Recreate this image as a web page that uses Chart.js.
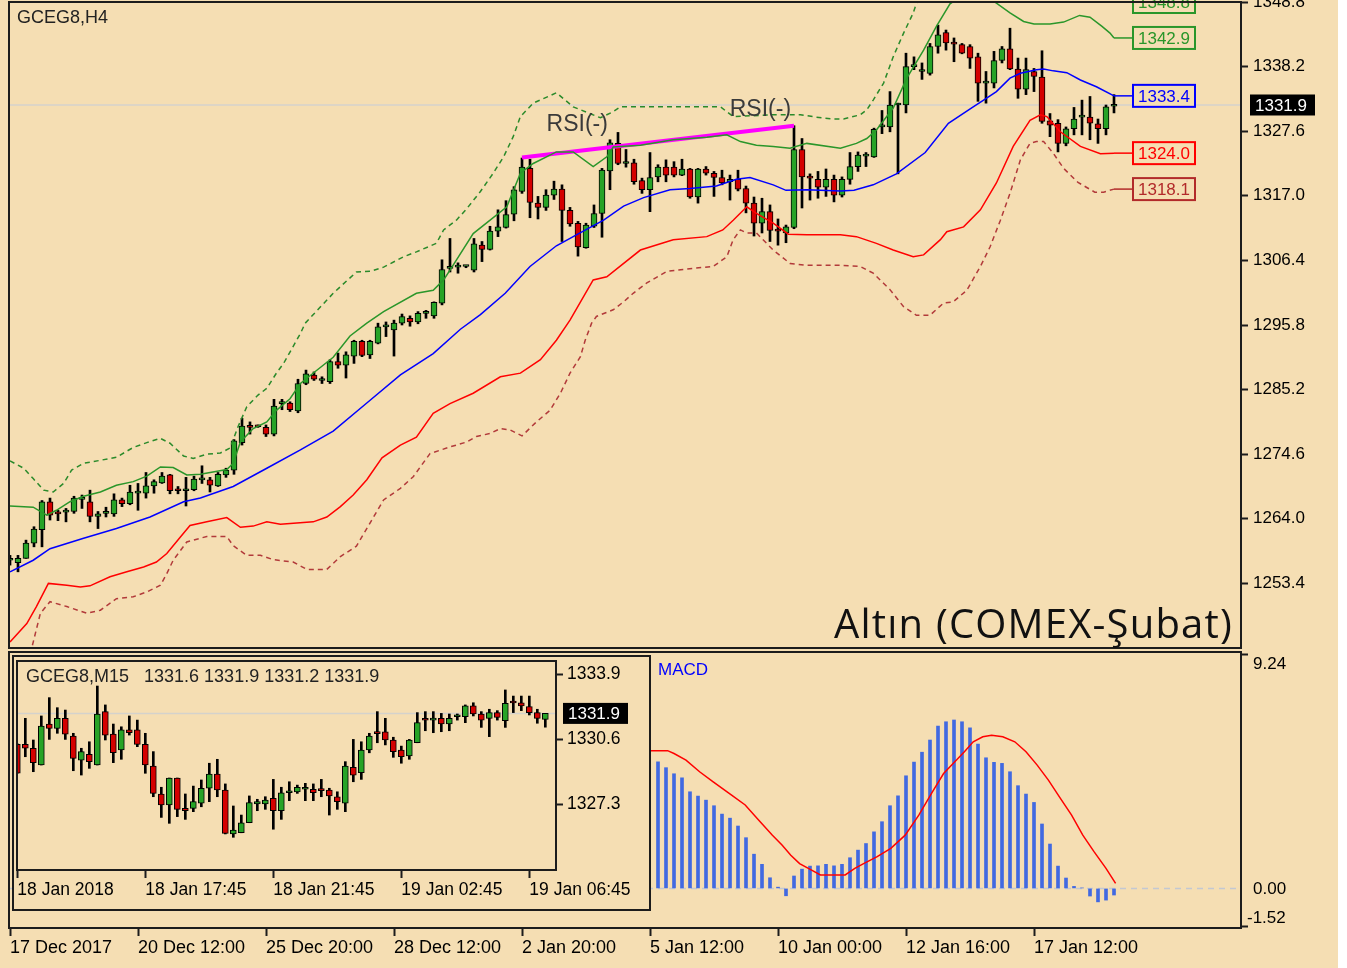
<!DOCTYPE html>
<html>
<head>
<meta charset="utf-8">
<title>GCEG8,H4</title>
<script src="https://cdn.jsdelivr.net/npm/chart.js@4.4.1/dist/chart.umd.min.js"></script>
<style>
  body { margin: 0; background: #ffffff; }
  #page { position: relative; width: 1338px; height: 968px; background: #f5deb3; overflow: hidden; }
  #page canvas { position: absolute; }
  .label { position: absolute; white-space: pre; line-height: 1; }
</style>
</head>
<body>
<div id="page">
  <canvas id="priceChart" width="1347" height="650" style="left:0;top:0"></canvas>
  <canvas id="macdChart" width="1347" height="318" style="left:0;top:650px"></canvas>
  <canvas id="m15Chart" width="639" height="256" style="left:12px;top:655px;background:#f5deb3"></canvas>
  <div class="label" style="left:17px;top:7px;font:18px 'Liberation Sans';color:#222">GCEG8,H4</div>
  <div class="label" style="right:105px;top:595px;font:40px 'Open Sans';letter-spacing:1.2px;color:#111">Altın (COMEX-Şubat)</div>
  <div class="label" style="left:658px;top:660px;font:17px 'Liberation Sans';color:#0000ff">MACD</div>
  <div class="label" id="m15Header" style="left:26px;top:666px;font:18px 'Liberation Sans';color:#222"></div>
</div>
<script>
// H4 candles, one entry per bar (bar 0 = 17 Dec 2017)
const h4Open = [
  1257.2, 1256.8, 1257.5, 1260.0, 1262.2, 1266.8, 1264.9, 1265.1, 1265.2, 1267.2,
  1266.8, 1264.4, 1264.9, 1264.8, 1267.1, 1266.5, 1268.2, 1268.2, 1269.4, 1269.9,
  1271.2, 1268.7, 1268.6, 1268.8, 1270.4, 1270.4, 1269.4, 1271.2, 1272.0, 1276.5,
  1279.1, 1279.2, 1279.0, 1277.9, 1282.9, 1283.0, 1281.7, 1286.2, 1287.6, 1286.7,
  1286.5, 1289.8, 1289.2, 1290.7, 1293.1, 1290.9, 1292.8, 1295.5, 1295.0, 1296.1,
  1296.9, 1296.3, 1297.7, 1297.3, 1299.4, 1305.1, 1305.3, 1305.4, 1304.8, 1308.9,
  1308.2, 1311.2, 1311.8, 1314.0, 1317.7, 1321.5, 1315.8, 1315.1, 1317.1, 1318.1,
  1314.6, 1312.5, 1308.5, 1312.0, 1314.1, 1321.1, 1325.6, 1322.3, 1322.4, 1319.5,
  1318.0, 1320.1, 1321.7, 1321.7, 1320.4, 1321.4, 1316.8, 1321.4, 1320.7, 1320.0,
  1319.3, 1319.7, 1318.2, 1315.8, 1312.5, 1314.4, 1311.3, 1310.9, 1311.8, 1324.6,
  1320.0, 1319.7, 1318.4, 1319.7, 1317.1, 1319.7, 1321.8, 1323.5, 1323.4, 1328.3,
  1328.3, 1331.9, 1331.9, 1338.2, 1337.4, 1337.1, 1341.5, 1343.8, 1342.0, 1341.8,
  1341.5, 1339.8, 1335.5, 1335.5, 1339.2, 1341.1, 1337.8, 1334.5, 1337.4, 1336.5,
  1329.3, 1328.9, 1325.6, 1328.0, 1329.9, 1329.9, 1328.8, 1328.0, 1331.7
];
const h4High = [
  1258.0, 1258.0, 1260.5, 1262.7, 1267.0, 1267.4, 1265.4, 1265.7, 1267.7, 1267.9,
  1268.7, 1265.2, 1265.9, 1268.1, 1267.4, 1269.5, 1269.8, 1271.6, 1270.4, 1271.6,
  1271.3, 1269.3, 1270.8, 1271.0, 1272.7, 1270.8, 1271.6, 1272.3, 1277.0, 1280.5,
  1279.9, 1279.4, 1279.4, 1283.6, 1283.6, 1283.2, 1286.9, 1288.4, 1288.1, 1287.3,
  1290.1, 1291.2, 1291.4, 1293.3, 1293.3, 1293.3, 1296.1, 1296.3, 1296.6, 1297.6,
  1297.3, 1298.0, 1298.2, 1299.6, 1306.5, 1310.0, 1306.0, 1305.5, 1310.0, 1309.5,
  1312.0, 1314.7, 1316.2, 1318.5, 1323.2, 1323.0, 1316.9, 1318.0, 1319.4, 1318.8,
  1315.1, 1312.8, 1312.5, 1315.5, 1321.5, 1326.2, 1327.4, 1324.6, 1323.0, 1319.9,
  1324.1, 1322.1, 1322.9, 1322.6, 1323.0, 1321.5, 1321.5, 1321.8, 1321.0, 1321.2,
  1320.4, 1321.2, 1318.6, 1316.8, 1316.6, 1315.5, 1313.2, 1312.2, 1328.5, 1326.4,
  1320.6, 1321.0, 1321.4, 1320.4, 1320.1, 1324.1, 1324.2, 1324.1, 1328.1, 1331.0,
  1334.1, 1332.2, 1340.4, 1339.8, 1338.8, 1342.0, 1345.0, 1344.2, 1342.9, 1342.0,
  1341.8, 1340.4, 1337.4, 1340.7, 1341.5, 1344.5, 1339.6, 1339.6, 1337.9, 1340.8,
  1330.5, 1329.5, 1328.3, 1331.5, 1332.7, 1333.3, 1329.6, 1331.9, 1333.6
];
const h4Low = [
  1256.4, 1255.3, 1257.5, 1259.4, 1259.4, 1263.8, 1263.7, 1263.5, 1264.9, 1265.7,
  1263.5, 1262.4, 1264.3, 1264.4, 1266.0, 1266.3, 1265.4, 1267.4, 1268.2, 1269.8,
  1268.1, 1268.1, 1266.1, 1268.6, 1269.8, 1268.4, 1269.3, 1270.8, 1271.3, 1276.1,
  1277.9, 1279.0, 1277.5, 1277.6, 1281.9, 1281.6, 1281.4, 1286.0, 1286.7, 1286.2,
  1286.2, 1288.7, 1287.1, 1289.5, 1290.6, 1290.3, 1292.7, 1293.9, 1290.7, 1295.8,
  1295.6, 1296.0, 1296.9, 1296.9, 1299.1, 1304.5, 1304.3, 1305.2, 1304.5, 1306.2,
  1308.1, 1310.3, 1311.7, 1312.9, 1317.4, 1313.4, 1313.2, 1314.6, 1316.4, 1309.5,
  1312.0, 1307.1, 1308.4, 1311.8, 1310.2, 1318.0, 1322.1, 1321.7, 1318.9, 1317.4,
  1314.4, 1319.3, 1319.3, 1320.1, 1320.3, 1316.6, 1315.8, 1320.4, 1316.9, 1318.8,
  1316.3, 1317.8, 1314.2, 1310.4, 1310.9, 1309.5, 1308.9, 1309.3, 1311.6, 1315.0,
  1316.3, 1316.6, 1316.9, 1316.0, 1316.8, 1318.9, 1321.0, 1321.8, 1323.3, 1327.2,
  1327.5, 1320.6, 1330.6, 1337.7, 1336.1, 1336.8, 1340.4, 1340.9, 1339.0, 1340.3,
  1337.9, 1332.5, 1332.2, 1334.7, 1338.8, 1337.7, 1333.0, 1333.6, 1334.1, 1328.9,
  1326.7, 1324.2, 1325.2, 1327.0, 1327.0, 1326.2, 1325.6, 1327.0, 1330.6
];
const h4Close = [
  1257.5, 1257.5, 1260.0, 1262.3, 1266.8, 1264.6, 1264.8, 1265.2, 1267.4, 1267.3,
  1264.4, 1264.8, 1265.0, 1267.1, 1266.5, 1268.4, 1268.3, 1269.4, 1270.1, 1271.0,
  1268.6, 1268.6, 1268.7, 1270.5, 1270.5, 1269.5, 1271.3, 1272.0, 1276.8, 1279.2,
  1279.0, 1279.1, 1277.9, 1282.5, 1283.0, 1281.9, 1286.2, 1287.8, 1286.9, 1286.8,
  1289.8, 1289.2, 1290.9, 1293.1, 1290.8, 1293.1, 1295.5, 1295.6, 1296.1, 1297.2,
  1296.3, 1297.7, 1297.8, 1299.5, 1304.9, 1305.2, 1305.4, 1305.4, 1309.1, 1308.2,
  1311.2, 1311.9, 1313.9, 1318.0, 1321.7, 1315.9, 1315.1, 1317.1, 1318.1, 1314.6,
  1312.4, 1308.6, 1312.2, 1314.1, 1321.2, 1325.7, 1322.3, 1322.4, 1319.3, 1318.0,
  1320.0, 1321.7, 1320.4, 1320.4, 1321.4, 1316.8, 1321.4, 1320.7, 1320.0, 1319.1,
  1319.7, 1318.1, 1315.8, 1312.5, 1314.4, 1311.3, 1311.2, 1311.9, 1324.6, 1320.1,
  1319.9, 1318.4, 1319.7, 1317.1, 1319.7, 1321.8, 1323.7, 1323.6, 1327.9, 1328.4,
  1331.9, 1332.0, 1338.2, 1338.3, 1337.5, 1341.5, 1343.4, 1342.1, 1341.9, 1340.4,
  1339.6, 1335.5, 1335.6, 1339.2, 1341.1, 1337.8, 1334.5, 1337.7, 1336.6, 1329.2,
  1328.6, 1325.6, 1328.0, 1329.6, 1330.0, 1328.9, 1328.0, 1331.6, 1331.9
];

// bands as [bar, price]
const upperOuter = [[0,1273.5],[1.7,1272.3],[2.9,1270.6],[4.2,1268.7],[5.4,1268.4],[6.7,1269.8],[7.7,1272.0],[9.2,1273.1],[11.3,1273.6],[13.3,1274.1],[15.4,1275.7],[17.1,1276.5],[18.8,1277.2],[20,1276.4],[21.7,1274.3],[22.9,1273.9],[24.6,1274.6],[26.3,1274.8],[27.5,1275.6],[28.5,1279.1],[29.6,1282.4],[31,1284.3],[32.1,1285.4],[33.3,1287.9],[34.2,1289.5],[36.3,1294.4],[36.9,1296.1],[40.4,1301.0],[43.3,1304.5],[45,1304.6],[46.7,1305.3],[49.2,1307.0],[50.8,1307.8],[53.3,1309.2],[54.2,1311.4],[55.8,1313.0],[57.1,1314.9],[58.8,1317.7],[60.4,1320.7],[61.7,1323.4],[62.9,1326.7],[63.8,1330.0],[65.4,1332.2],[68.3,1333.9],[70.4,1331.6],[73.8,1329.8],[75.4,1330.8],[76.3,1331.6],[82.9,1331.6],[88.8,1331.6],[90.4,1330.0],[95.4,1330.3],[98.8,1330.3],[100.8,1329.9],[102.9,1329.6],[104.2,1329.6],[106.3,1330.3],[107.1,1331.1],[107.9,1332.7],[109.2,1335.5],[110.4,1339.8],[111.7,1343.7],[112.9,1347.0],[113.3,1348.6],[115,1352.5],[118,1356.0],[122,1357.5],[126,1356.5],[130,1354.0],[134,1351.5],[136.5,1349.9],[138,1348.8]];
const upperBand = [[0,1266.1],[2.9,1265.9],[4.6,1264.6],[5.8,1265.4],[7.5,1266.8],[9.2,1267.7],[11.3,1268.4],[13.3,1269.5],[15.4,1270.1],[17.1,1271.0],[18.8,1272.5],[20.4,1272.4],[22.1,1271.2],[23.8,1271.3],[27.1,1272.1],[27.9,1273.1],[28.8,1276.6],[30.4,1278.8],[32.1,1279.9],[33.3,1281.8],[35,1283.7],[36.3,1286.2],[38,1288.0],[40.4,1290.5],[42.5,1294.0],[44.6,1296.1],[46.7,1298.0],[50.8,1301.0],[52.9,1301.5],[54.2,1303.2],[55,1304.8],[57.9,1310.8],[62.1,1315.2],[63.8,1320.7],[65.4,1322.3],[68.3,1324.2],[70.4,1324.2],[72.9,1321.8],[74.6,1323.4],[75.4,1325.0],[78.8,1325.3],[82.9,1326.2],[87.1,1326.6],[89.6,1327.0],[91.3,1325.9],[93.3,1325.3],[95.4,1325.1],[97.5,1324.8],[99.6,1325.6],[103.8,1324.8],[105.8,1325.6],[107.1,1326.4],[108.3,1327.8],[110.4,1331.4],[112.1,1336.3],[114.2,1340.9],[115.8,1344.8],[117.5,1348.5],[119.5,1350.3],[121.5,1350.5],[123,1348.9],[125,1347.0],[126.7,1345.6],[128,1345.2],[130,1345.2],[131.7,1345.5],[133.7,1346.6],[135,1346.3],[136.5,1344.8],[137.5,1343.7],[138,1342.9]];
const middleBand = [[0,1255.3],[2.9,1257.2],[5,1259.1],[9.2,1260.8],[13.3,1262.4],[17.5,1264.3],[21.7,1266.8],[23.8,1267.4],[27.9,1269.3],[32.1,1272.3],[36.3,1275.3],[40.4,1278.4],[44.6,1283.0],[48.8,1287.6],[52.9,1291.1],[56.3,1295.1],[58.8,1297.5],[61.9,1301.0],[65,1305.4],[68.3,1308.8],[70.8,1310.6],[74.2,1313.0],[76.7,1315.3],[79.2,1316.7],[82.5,1318.0],[85,1318.2],[88.3,1318.6],[90.8,1319.7],[92.5,1320.0],[95.4,1318.8],[97,1317.9],[99.6,1318.0],[103.8,1317.8],[105.5,1317.9],[107.9,1318.8],[110.8,1320.6],[114.4,1324.1],[117.3,1328.9],[120.4,1331.6],[121.7,1332.7],[123.3,1334.1],[125,1336.3],[126.3,1337.1],[128.3,1337.7],[129.2,1337.8],[130.4,1337.5],[132.1,1337.2],[133.8,1336.0],[135.8,1334.9],[138,1333.4]];
const lowerBand = [[0,1243.8],[2.1,1246.8],[3.3,1249.6],[4.8,1253.4],[7.1,1253.1],[8.8,1252.8],[10,1253.0],[12.5,1254.5],[14.6,1255.3],[16.7,1256.1],[18.3,1256.9],[19.6,1258.3],[21.3,1261.0],[22.5,1262.9],[24.6,1263.5],[27.1,1264.2],[28.8,1262.6],[30.4,1262.8],[32.1,1263.5],[33.8,1263.1],[37.9,1263.5],[39.6,1264.3],[41.3,1266.0],[42.9,1267.9],[44.6,1270.4],[46.5,1274.0],[48.8,1276.1],[50.8,1277.4],[52.9,1281.3],[55,1282.9],[57.9,1284.6],[61.3,1287.3],[63.8,1287.9],[66.3,1290.1],[68.3,1293.3],[70,1296.6],[72.9,1303.2],[74.6,1303.7],[78.8,1308.1],[82.9,1309.8],[87.1,1310.3],[89.1,1311.4],[90.4,1313.0],[92.1,1315.2],[93.3,1314.1],[95.4,1312.5],[97.3,1310.7],[99.6,1310.6],[103.8,1310.6],[105.8,1310.3],[108.3,1309.2],[110.4,1308.1],[112.9,1307.0],[114.2,1307.3],[116.3,1309.8],[117.1,1311.1],[119.2,1311.9],[121.3,1314.7],[123.3,1319.1],[125.4,1325.1],[127.5,1329.4],[128.8,1330.3],[129.6,1330.0],[131.3,1327.5],[133.8,1325.1],[136.3,1323.9],[138,1324.0]];
const lowerOuter = [[2,1240.5],[2.7,1242.7],[3.8,1248.5],[5,1250.4],[7.1,1249.6],[9.6,1248.5],[11.3,1249.0],[13.3,1250.9],[15.4,1251.2],[17.1,1252.0],[18.8,1253.1],[19.6,1255.0],[20.4,1257.2],[22.1,1260.2],[24.6,1261.1],[27.1,1261.1],[27.9,1259.6],[29.6,1258.0],[31.3,1258.0],[32.9,1257.3],[35.4,1256.9],[37.1,1255.7],[39.6,1255.7],[41.3,1257.8],[43.3,1259.5],[45,1263.3],[46.7,1267.1],[48.8,1269.0],[50.4,1270.9],[52.5,1274.7],[55,1275.8],[57.1,1276.6],[58.3,1277.5],[60,1278.0],[61.3,1278.8],[62.5,1278.6],[64,1277.6],[65.8,1279.9],[67.5,1281.8],[68.8,1284.6],[70,1287.9],[71.3,1290.6],[71.9,1293.3],[72.7,1296.1],[73.3,1297.2],[75.4,1298.3],[76.7,1299.6],[77.9,1301.0],[79.6,1302.7],[82.1,1304.6],[85.4,1305.1],[87.9,1305.4],[89.6,1307.0],[90.4,1309.8],[91.3,1311.4],[92.1,1310.9],[93.3,1310.9],[95.4,1308.1],[97.5,1305.9],[99.6,1305.6],[103.8,1305.6],[106.3,1305.4],[107.9,1304.3],[110,1301.6],[111.7,1298.8],[113.3,1297.4],[115,1297.4],[116.7,1299.4],[117.9,1299.6],[119.6,1301.5],[121.3,1305.4],[122.5,1308.6],[123.8,1313.0],[125,1317.4],[126.3,1322.9],[127.5,1325.6],[128.3,1325.9],[129.2,1325.9],[130.4,1324.0],[131.7,1321.5],[133.5,1319.2],[135.6,1317.6],[136.7,1317.6],[138,1318.1]];

const rsiTrend = [[64, 1323.3], [98, 1328.5]];
const rsiNotes = [[70.9, 1328.6], [93.8, 1331.1]];

const priceTicks = [1253.4, 1264.0, 1274.6, 1285.2, 1295.8, 1306.4, 1317.0, 1327.6, 1338.2, 1348.8];
const timeTickBars = [0, 16, 32, 48, 64, 80, 96, 112, 128];
const timeLabels = ['17 Dec 2017', '20 Dec 12:00', '25 Dec 20:00', '28 Dec 12:00', '2 Jan 20:00', '5 Jan 12:00', '10 Jan 00:00', '12 Jan 16:00', '17 Jan 12:00'];

// MACD histogram from bar 81 on (left part is under the M15 window)
const macdStart = 81;
const macdHist = [
  4.99, 4.76, 4.52, 4.36, 3.81, 3.64, 3.48, 3.26, 2.93, 2.77,
  2.46, 2.00, 1.35, 0.95, 0.42, 0.05, -0.29, 0.49, 0.76, 0.88,
  0.89, 0.95, 0.89, 0.95, 1.21, 1.51, 1.77, 2.23, 2.63, 3.26,
  3.65, 4.44, 4.98, 5.37, 5.85, 6.40, 6.57, 6.64, 6.57, 6.33,
  5.69, 5.15, 4.97, 4.93, 4.60, 4.05, 3.72, 3.39, 2.54, 1.75,
  0.88, 0.41, 0.08, 0.02, -0.30, -0.53, -0.46, -0.26
];
const signalBars = [80, 82.2, 83, 84.5, 86.2, 87.9, 90.2, 91.9, 93.6, 95.3, 96.5, 97.6, 98.7, 100.2, 101.3, 104.4, 105.6, 106.7, 108.4, 110.1, 111.9, 113.6, 115.3, 116.7, 118.1, 119.3, 120.4, 121.6, 122.7, 124.1, 125.6, 127, 128.4, 129.8, 131.3, 132.7, 134.1, 135.5, 137, 138.2];
const signalValues = [5.43, 5.43, 5.32, 5.06, 4.60, 4.20, 3.68, 3.29, 2.69, 2.10, 1.71, 1.31, 0.98, 0.72, 0.53, 0.53, 0.79, 0.98, 1.25, 1.58, 2.10, 2.89, 3.81, 4.53, 4.99, 5.39, 5.78, 5.98, 6.04, 5.98, 5.78, 5.39, 4.86, 4.27, 3.55, 2.89, 2.10, 1.45, 0.79, 0.20];
const macdTicks = [-1.52, 0, 9.24];

// M15 window
const m15Open = [
  1330.33, 1330.33, 1330.13, 1329.28, 1331.36, 1331.14, 1331.65, 1330.75, 1329.53, 1329.82,
  1329.28, 1331.99, 1330.85, 1330.04, 1331.06, 1331.06, 1330.33, 1329.23, 1327.81, 1327.25,
  1328.62, 1327.08, 1327.08, 1327.34, 1328.10, 1328.82, 1328.01, 1325.78, 1325.84, 1326.35,
  1327.30, 1327.30, 1327.59, 1326.96, 1327.87, 1327.92, 1328.05, 1328.05, 1328.00, 1328.01,
  1327.67, 1327.34, 1329.16, 1328.89, 1330.04, 1330.89, 1330.97, 1330.55, 1330.04, 1329.74,
  1330.41, 1331.56, 1331.56, 1331.65, 1331.36, 1331.73, 1331.73, 1332.28, 1331.87, 1331.65,
  1331.94, 1331.53, 1332.44, 1332.44, 1332.24, 1331.94, 1331.60
];
const m15High = [
  1330.35, 1331.65, 1330.55, 1331.77, 1332.70, 1332.19, 1332.07, 1330.89, 1330.13, 1330.46,
  1333.29, 1332.33, 1331.36, 1331.22, 1331.77, 1331.56, 1330.89, 1329.96, 1328.15, 1328.62,
  1328.62, 1327.81, 1328.21, 1328.52, 1329.37, 1329.57, 1328.32, 1327.20, 1326.74, 1327.71,
  1327.54, 1327.67, 1328.55, 1328.15, 1328.43, 1328.26, 1328.35, 1328.32, 1328.55, 1328.10,
  1327.92, 1329.45, 1330.58, 1330.46, 1330.89, 1331.99, 1331.65, 1330.69, 1330.24, 1330.58,
  1331.94, 1331.99, 1331.99, 1331.90, 1331.87, 1331.87, 1332.33, 1332.44, 1331.99, 1332.11,
  1332.04, 1333.09, 1332.78, 1332.78, 1332.78, 1332.11, 1331.90
];
const m15Low = [
  1328.86, 1329.70, 1328.94, 1329.28, 1330.58, 1330.89, 1330.58, 1328.99, 1328.77, 1329.11,
  1329.28, 1330.55, 1329.40, 1329.57, 1330.80, 1330.21, 1328.86, 1327.67, 1326.62, 1326.32,
  1326.66, 1326.52, 1326.91, 1327.16, 1327.42, 1327.67, 1325.78, 1325.61, 1325.84, 1326.35,
  1326.96, 1327.03, 1326.02, 1326.52, 1327.47, 1327.84, 1327.47, 1327.47, 1327.67, 1326.74,
  1327.03, 1326.91, 1328.43, 1328.55, 1329.90, 1330.41, 1330.30, 1329.67, 1329.37, 1329.57,
  1330.41, 1331.02, 1330.92, 1330.97, 1331.02, 1331.56, 1331.43, 1331.77, 1331.19, 1330.72,
  1331.56, 1331.19, 1331.94, 1332.04, 1331.82, 1331.40, 1331.20
];
const m15Close = [
  1328.86, 1330.13, 1329.40, 1331.26, 1331.14, 1331.65, 1330.85, 1329.62, 1329.96, 1329.45,
  1331.87, 1330.80, 1329.90, 1331.06, 1330.92, 1330.33, 1329.28, 1327.84, 1327.25, 1328.62,
  1327.03, 1326.96, 1327.42, 1328.10, 1328.82, 1328.01, 1325.81, 1325.98, 1326.35, 1327.37,
  1327.42, 1327.50, 1326.96, 1327.87, 1327.90, 1328.15, 1328.07, 1327.87, 1327.98, 1327.71,
  1327.42, 1329.23, 1328.77, 1330.04, 1330.75, 1330.87, 1330.55, 1329.96, 1329.70, 1330.55,
  1331.43, 1331.55, 1331.58, 1331.36, 1331.65, 1331.75, 1332.28, 1331.87, 1331.56, 1331.94,
  1331.70, 1332.41, 1332.43, 1332.28, 1331.94, 1331.65, 1331.90
];
const m15Ticks = [1327.3, 1330.6, 1333.9];
const m15TickBars = [0, 16, 32, 48, 64];
const m15Labels = ['18 Jan 2018', '18 Jan 17:45', '18 Jan 21:45', '19 Jan 02:45', '19 Jan 06:45'];

const BG = '#f5deb3';
const UP = '#27a327';
const DOWN = '#d40000';
const FRAME = '#1c1c1c';
const AXIS_FONT = { family: 'Liberation Sans', size: 17 };

var priceChart = {};
var macdChart = {};
var m15Chart = {};

Chart.defaults.font.family = 'Liberation Sans';

// keep the plot box exactly where the layout padding puts it
function fixWidth(w) {
    return function (s) { s.width = w; s.paddingTop = 0; s.paddingBottom = 0; };
}
function fixHeight(h) {
    return function (s) { s.height = h; s.paddingLeft = 0; s.paddingRight = 0; };
}

function candleSets(open, high, low, close) {
    const bodies = open.map((o, i) => ({ x: i, y: [o, close[i]] }));
    const wicks = low.map((l, i) => ({ x: i, y: [l, high[i]] }));
    const colors = close.map((c, i) => c >= open[i] ? UP : DOWN);
    return [
        { type: 'bar', data: bodies, backgroundColor: colors, borderColor: '#000', borderWidth: 1,
          borderSkipped: false, barThickness: 6, minBarLength: 2, grouped: false, order: 1 },
        { type: 'bar', data: wicks, backgroundColor: '#000', barThickness: 2, grouped: false, order: 2 }
    ];
}

function lineSet(points, color, width, dash) {
    return {
        type: 'line',
        data: points.map(p => ({ x: p[0], y: p[1] })),
        borderColor: color, borderWidth: width, borderDash: dash || [],
        pointRadius: 0, tension: 0, fill: false, order: 0
    };
}

function bidLine(value) {
    return {
        id: 'bidLine',
        beforeDatasetsDraw(chart) {
            const a = chart.chartArea, ctx = chart.ctx;
            const y = chart.scales.y.getPixelForValue(value);
            ctx.save();
            ctx.strokeStyle = '#d4d2cc';
            ctx.lineWidth = 1.5;
            ctx.beginPath(); ctx.moveTo(a.left, y); ctx.lineTo(a.right, y); ctx.stroke();
            ctx.restore();
        }
    };
}

function frameAndTag(value, tagGap, outer) {
    return {
        id: 'frameAndTag',
        afterDraw(chart) {
            const a = chart.chartArea, ctx = chart.ctx;
            ctx.save();
            ctx.strokeStyle = FRAME;
            ctx.lineWidth = 2;
            ctx.strokeRect(a.left, a.top, a.right - a.left, a.bottom - a.top);
            if (outer) {
                ctx.strokeRect(1, 1, chart.width - 2, chart.height - 2);
            }
            if (value !== null) {
                const y = chart.scales.y.getPixelForValue(value);
                ctx.fillStyle = '#000';
                ctx.fillRect(a.right + tagGap, y - 10.5, 65, 21);
                ctx.fillStyle = '#fff';
                ctx.font = '17px "Liberation Sans"';
                ctx.textBaseline = 'middle';
                ctx.fillText(value.toFixed(1), a.right + tagGap + 5, y + 1);
            }
            ctx.restore();
        }
    };
}

const bandTagList = [
    { points: upperOuter, color: '#2a962a' },
    { points: upperBand, color: '#2a962a' },
    { points: middleBand, color: '#0000ff' },
    { points: lowerBand, color: '#ff0000' },
    { points: lowerOuter, color: '#b22a2a' }
];

const priceNotes = {
    id: 'priceNotes',
    afterDatasetsDraw(chart) {
        const ctx = chart.ctx, xs = chart.scales.x, ys = chart.scales.y;
        ctx.save();
        ctx.font = '17px "Liberation Sans"';
        ctx.textAlign = 'center';
        ctx.textBaseline = 'middle';
        bandTagList.forEach(function (b) {
            const last = b.points[b.points.length - 1];
            const x0 = xs.getPixelForValue(last[0]);
            const y = ys.getPixelForValue(last[1]);
            const left = x0 + 19;
            ctx.strokeStyle = b.color;
            ctx.lineWidth = 1.5;
            ctx.beginPath(); ctx.moveTo(x0, y); ctx.lineTo(left, y); ctx.stroke();
            ctx.fillStyle = BG;
            ctx.fillRect(left, y - 11, 62, 22);
            ctx.lineWidth = 2;
            ctx.strokeRect(left, y - 11, 62, 22);
            ctx.fillStyle = b.color;
            ctx.fillText(last[1].toFixed(1), left + 31, y + 1);
        });
        ctx.font = '23px "Liberation Sans"';
        ctx.fillStyle = '#3a3a3a';
        rsiNotes.forEach(function (n) {
            ctx.fillText('RSI(-)', xs.getPixelForValue(n[0]), ys.getPixelForValue(n[1]));
        });
        ctx.restore();
    }
};

function createPriceChart() {
    const last = h4Close[h4Close.length - 1];
    const datasets = [
        lineSet(upperOuter, '#2a8a2a', 1.5, [5, 4]),
        lineSet(upperBand, '#2a962a', 1.5),
        lineSet(middleBand, '#0000ff', 1.5),
        lineSet(lowerBand, '#ff0000', 1.5),
        lineSet(lowerOuter, '#b23a3a', 1.5, [5, 4]),
        lineSet(rsiTrend, '#ff00ff', 4)
    ].concat(candleSets(h4Open, h4High, h4Low, h4Close));

    priceChart = new Chart(document.getElementById('priceChart'), {
        type: 'bar',
        data: { datasets: datasets },
        options: {
            responsive: false,
            animation: false,
            events: [],
            layout: { padding: { left: 9, top: 2, right: 0, bottom: 2 } },
            plugins: { legend: { display: false }, tooltip: { enabled: false } },
            scales: {
                x: { type: 'linear', display: false, min: -0.125, max: 153.875, offset: false },
                y: {
                    position: 'right', min: 1242.8, max: 1348.8, beginAtZero: false,
                    afterFit: fixWidth(106),
                    afterBuildTicks: function (s) { s.ticks = priceTicks.map(v => ({ value: v })); },
                    ticks: { color: '#000', font: AXIS_FONT, padding: 5, callback: v => v.toFixed(1) },
                    grid: { drawOnChartArea: false, tickLength: 7, tickWidth: 2, tickColor: FRAME },
                    border: { display: false }
                }
            }
        },
        plugins: [bidLine(last), priceNotes, frameAndTag(last, 9, false)]
    });
}

const zeroLine = {
    id: 'zeroLine',
    beforeDatasetsDraw(chart) {
        const a = chart.chartArea, ctx = chart.ctx;
        const y = chart.scales.y.getPixelForValue(0);
        ctx.save();
        ctx.strokeStyle = '#c3c8d2';
        ctx.lineWidth = 1.5;
        ctx.setLineDash([6, 5]);
        ctx.beginPath(); ctx.moveTo(a.left, y); ctx.lineTo(a.right, y); ctx.stroke();
        ctx.restore();
    }
};

const macdLabels = {
    id: 'macdLabels',
    afterDraw(chart) {
        const a = chart.chartArea, ctx = chart.ctx, ys = chart.scales.y;
        const top = Math.max(...macdTicks), bottom = Math.min(...macdTicks);
        ctx.save();
        ctx.font = '17px "Liberation Sans"';
        ctx.fillStyle = '#000';
        ctx.textBaseline = 'middle';
        macdTicks.forEach(function (v) {
            let y = ys.getPixelForValue(v) + 1;
            if (v === top) y += 9;
            if (v === bottom) y -= 10;
            ctx.fillText(v.toFixed(2), a.right + (v < 0 ? 6 : 12), y);
        });
        ctx.restore();
    }
};

function createMacdChart() {
    const hist = macdHist.map((v, i) => ({ x: macdStart + i, y: v }));
    const signal = signalBars.map((b, i) => ({ x: b, y: signalValues[i] }));

    macdChart = new Chart(document.getElementById('macdChart'), {
        type: 'bar',
        data: {
            datasets: [
                { type: 'line', data: signal, borderColor: '#ff0000', borderWidth: 1.5, pointRadius: 0, tension: 0, order: 0 },
                { type: 'bar', data: hist, backgroundColor: '#4169e1', barThickness: 3, grouped: false, order: 1 }
            ]
        },
        options: {
            responsive: false,
            animation: false,
            events: [],
            layout: { padding: { left: 9, top: 2, right: 0, bottom: 0 } },
            plugins: { legend: { display: false }, tooltip: { enabled: false } },
            scales: {
                x: {
                    type: 'linear', min: -0.125, max: 153.875, offset: false,
                    afterFit: fixHeight(40),
                    afterBuildTicks: function (s) { s.ticks = timeTickBars.map(v => ({ value: v })); },
                    ticks: { autoSkip: false, maxRotation: 0, align: 'start', padding: 1, color: '#000',
                             font: { family: 'Liberation Sans', size: 18 }, callback: (v, i) => timeLabels[i] },
                    grid: { drawOnChartArea: false, offset: false, tickLength: 8, tickWidth: 2, tickColor: FRAME },
                    border: { display: false }
                },
                y: {
                    position: 'right', min: -1.56, max: 9.32, beginAtZero: false,
                    afterFit: fixWidth(106),
                    afterBuildTicks: function (s) { s.ticks = macdTicks.map(v => ({ value: v })); },
                    ticks: { display: false },
                    grid: { drawOnChartArea: false, tickLength: 7, tickWidth: 2,
                            tickColor: c => (c.tick && c.tick.value === 0) ? 'rgba(0,0,0,0)' : FRAME },
                    border: { display: false }
                }
            }
        },
        plugins: [zeroLine, macdLabels, frameAndTag(null, 0, false)]
    });
}

function createM15Chart() {
    const n = m15Close.length - 1;
    document.getElementById('m15Header').textContent =
        'GCEG8,M15   ' + [m15Open[n], m15High[n], m15Low[n], m15Close[n]].map(v => v.toFixed(1)).join(' ');

    m15Chart = new Chart(document.getElementById('m15Chart'), {
        type: 'bar',
        data: { datasets: candleSets(m15Open, m15High, m15Low, m15Close) },
        options: {
            responsive: false,
            animation: false,
            events: [],
            layout: { padding: { left: 5, top: 6, right: 0, bottom: 0 } },
            plugins: { legend: { display: false }, tooltip: { enabled: false } },
            scales: {
                x: {
                    type: 'linear', min: -0.04, max: 67.335, offset: false,
                    afterFit: fixHeight(41),
                    afterBuildTicks: function (s) { s.ticks = m15TickBars.map(v => ({ value: v })); },
                    ticks: { autoSkip: false, maxRotation: 0, align: 'start', padding: 2, color: '#000',
                             font: { family: 'Liberation Sans', size: 17.5 }, callback: (v, i) => m15Labels[i] },
                    grid: { drawOnChartArea: false, offset: false, tickLength: 8, tickWidth: 2, tickColor: FRAME },
                    border: { display: false }
                },
                y: {
                    position: 'right', min: 1323.95, max: 1334.56, beginAtZero: false,
                    afterFit: fixWidth(95),
                    afterBuildTicks: function (s) { s.ticks = m15Ticks.map(v => ({ value: v })); },
                    ticks: { color: '#000', font: { family: 'Liberation Sans', size: 17.5 }, padding: 4, callback: v => v.toFixed(1) },
                    grid: { drawOnChartArea: false, tickLength: 7, tickWidth: 2, tickColor: FRAME },
                    border: { display: false }
                }
            }
        },
        plugins: [bidLine(m15Close[n]), frameAndTag(m15Close[n], 7, true)]
    });
}

createPriceChart();
createMacdChart();
createM15Chart();
</script>
</body>
</html>
